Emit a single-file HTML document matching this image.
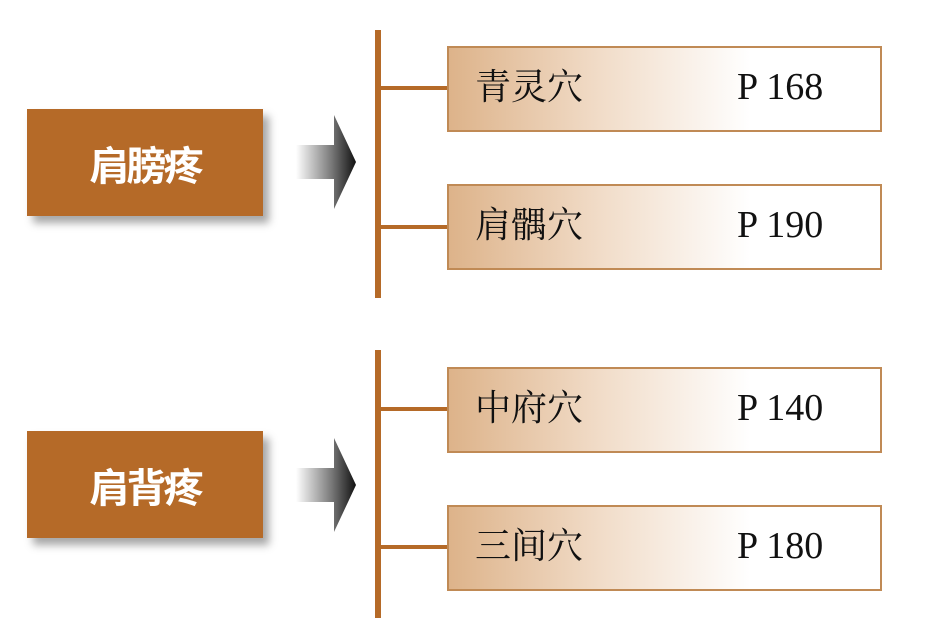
<!DOCTYPE html>
<html><head><meta charset="utf-8"><style>
body{margin:0;width:926px;height:634px;background:#fff;position:relative;overflow:hidden;font-family:"Liberation Serif","Noto Serif CJK SC",serif}
.lb{position:absolute;left:27px;width:236px;height:107px;background:#b56a28;box-shadow:6px 7px 8px rgba(0,0,0,.35);color:#fff;font:bold 40px "Noto Sans CJK SC",sans-serif;display:flex;align-items:center;justify-content:center;letter-spacing:-3px}
.v{position:absolute;left:375px;width:6px;background:#b56a28}
.h{position:absolute;left:378px;width:70px;height:4px;background:#b56a28}
.bx{position:absolute;left:447px;width:431px;height:82px;border:2px solid #c08a55;background:linear-gradient(90deg,#ddb38a 0%,#f1dcc8 35%,#fff 70%,#fff 100%)}
.bx span{position:absolute;top:17px;font-size:38px;color:#111;line-height:44px}
.bx .a{left:26px;font-family:"Noto Serif CJK SC",serif;font-size:36px;top:15px}
.bx .b{left:288px}
.ar{position:absolute;left:292px;width:66px;height:110px}
</style></head><body>
<div class="lb" style="top:109px">肩膀疼</div>
<div class="lb" style="top:431px">肩背疼</div>
<svg class="ar" style="top:107px" viewBox="0 0 66 110"><defs><linearGradient id="g" x1="0" x2="1"><stop offset="0" stop-color="#fff"/><stop offset="0.6" stop-color="#777"/><stop offset="1" stop-color="#111"/></linearGradient></defs><polygon points="4,38 42,38 42,8 64,55 42,102 42,72 4,72" fill="url(#g)"/></svg>
<svg class="ar" style="top:430px" viewBox="0 0 66 110"><polygon points="4,38 42,38 42,8 64,55 42,102 42,72 4,72" fill="url(#g)"/></svg>
<div class="v" style="top:30px;height:268px"></div>
<div class="v" style="top:350px;height:268px"></div>
<div class="h" style="top:86px"></div>
<div class="h" style="top:225px"></div>
<div class="h" style="top:407px"></div>
<div class="h" style="top:545px"></div>
<div class="bx" style="top:46px"><span class="a">青灵穴</span><span class="b">P 168</span></div>
<div class="bx" style="top:184px"><span class="a">肩髃穴</span><span class="b">P 190</span></div>
<div class="bx" style="top:367px"><span class="a">中府穴</span><span class="b">P 140</span></div>
<div class="bx" style="top:505px"><span class="a">三间穴</span><span class="b">P 180</span></div>
</body></html>
